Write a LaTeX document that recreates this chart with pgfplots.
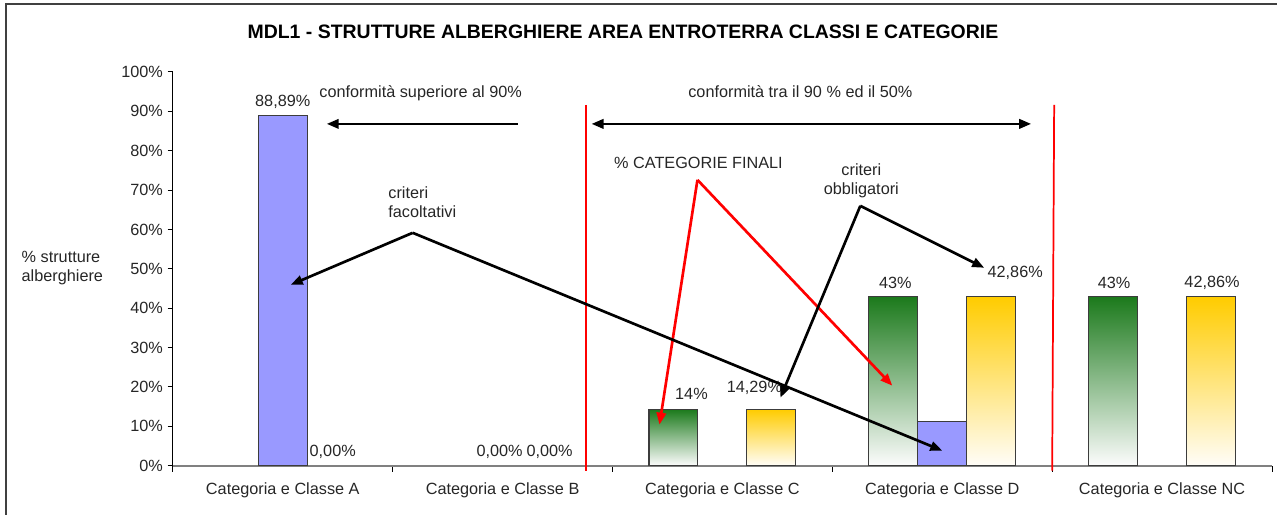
\documentclass[border=0pt]{standalone}
\usepackage{pgfplots}
\pgfplotsset{compat=1.18}
\usepackage{fontspec}
\setmainfont{Liberation Sans}
\usetikzlibrary{arrows.meta}
\definecolor{barblue}{RGB}{153,153,255}
\definecolor{ggreen}{RGB}{28,122,28}
\definecolor{gbottom}{RGB}{252,252,252}
\definecolor{gyellow}{RGB}{255,204,0}
\definecolor{ybottom}{RGB}{255,253,248}
\definecolor{edgegray}{RGB}{60,60,60}
\newcommand{\bodyfont}{\fontsize{12.2}{14.25}\selectfont}
\begin{document}
\begin{tikzpicture}
\begin{scope}[x=0.75pt,y=-0.75pt,shift={(-129.75pt,349.5pt)}]
\path (0,0) rectangle (1278,515);
\end{scope}
\begin{axis}[
  at={(0,0)}, anchor=south west,
  scale only axis, width=825pt, height=295.5pt,
  xmin=-0.5, xmax=4.5, ymin=0, ymax=100,
  axis x line*=bottom, axis y line*=left,
  x axis line style={draw=gray, line width=1.5pt},
  y axis line style={draw=black, line width=0.8pt},
  tick align=outside,
  xtick={0,1,2,3,4},
  xticklabels={Categoria e Classe A,Categoria e Classe B,Categoria e Classe C,Categoria e Classe D,Categoria e Classe NC},
  major x tick style={draw=none},
  minor xtick={-0.5,0.5,1.5,2.5,3.5,4.5},
  minor x tick style={black, line width=0.75pt},
  minor tick length=4.5pt,
  ytick={0,10,20,30,40,50,60,70,80,90,100},
  yticklabels={0\%,10\%,20\%,30\%,40\%,50\%,60\%,70\%,80\%,90\%,100\%},
  y tick style={black, line width=0.75pt},
  major tick length=4pt,
  tick label style={font=\bodyfont, text=black!85},
  xticklabel style={yshift=-5pt},
  title={MDL1 - STRUTTURE ALBERGHIERE AREA ENTROTERRA CLASSI E CATEGORIE},
  every axis title/.style={at={(axis description cs:0.4095,1.1015)}, anchor=center, font=\fontsize{14.6}{17}\selectfont\bfseries},
  ylabel={\% strutture\\alberghiere},
  every axis y label/.style={at={(axis description cs:-0.1418,0.501)}, anchor=west, align=left, font=\bodyfont, text=black!85},
  clip=false,
  greenbar/.style={ybar, bar width=0.2227, bar shift=-0.2227, draw=edgegray, line width=0.8pt, top color=ggreen, bottom color=gbottom},
  yellowbar/.style={ybar, bar width=0.2227, bar shift=0.2227, draw=edgegray, line width=0.8pt, top color=gyellow, bottom color=ybottom},
]
% criteri facoltativi (blue); zero values not drawn
\addplot[ybar, bar width=0.2227, bar shift=0, fill=barblue, draw=edgegray, line width=0.8pt]
  coordinates {(0,88.89) (3,11.11)};
% % categorie finali (green), one plot per bar so each bar has its own gradient
\addplot[greenbar] coordinates {(2,14.29)};
\addplot[greenbar] coordinates {(3,42.86)};
\addplot[greenbar] coordinates {(4,42.86)};
% criteri obbligatori (yellow)
\addplot[yellowbar] coordinates {(2,14.29)};
\addplot[yellowbar] coordinates {(3,42.86)};
\addplot[yellowbar] coordinates {(4,42.86)};
% value labels
\addplot[only marks, mark=none, nodes near coords, point meta=explicit symbolic,
  visualization depends on={\thisrow{dx} \as \dx},
  visualization depends on={\thisrow{dy} \as \dy},
  nodes near coords style={anchor=center, xshift=\dx*0.75pt, yshift=\dy*0.75pt, font=\bodyfont, text=black!85, inner sep=0pt}]
  table[x=x, y=y, meta=lab] {
x y dx dy lab
0 88.89 0 14 88,89\%
0.2227 0 1 14 0,00\%
1 0 -3 14 0,00\%
1.2227 0 -2 14 0,00\%
1.7773 14.29 18 15 14\%
2.2227 14.29 -17 22 14,29\%
2.7773 42.86 2 14 43\%
3.2227 42.86 24 24 42,86\%
3.7773 42.86 1 14 43\%
4.2227 42.86 1 14 42,86\%
};
\end{axis}
\begin{scope}[x=0.75pt,y=-0.75pt,shift={(-129.75pt,349.5pt)}]
% chart border
\draw[line width=1.5pt, black!75] (6,515) -- (6,4) -- (1278,4);
% separators
\draw[draw=red, line width=1.3pt] (586.5,105) -- (586.5,471);
\draw[draw=red, line width=1.3pt] (1055,105) -- (1053,471);
% annotation texts
\node[font=\bodyfont, text=black!85] at (421,93) {conformità superiore al 90\%};
\node[font=\bodyfont, text=black!85] at (801,92) {conformità tra il 90 \% ed il 50\%};
\node[font=\bodyfont, text=black!85] at (699,163) {\% CATEGORIE FINALI};
\node[font=\bodyfont, text=black!85, align=center] at (862,180.5) {criteri\\obbligatori};
\node[font=\bodyfont, text=black!85, align=left, anchor=west] at (384,202.5) {criteri\\facoltativi};
% arrows
\tikzset{ah/.style={-{Triangle[length=9pt,width=7pt]}}}
\draw[line width=2pt, ah] (518,124) -- (327,124);
\draw[line width=2pt, {Triangle[length=9pt,width=7pt]}-{Triangle[length=9pt,width=7pt]}] (592,124) -- (1032,124);
\draw[red, line width=2pt, ah] (698,180) -- (660,425);
\draw[red, line width=2pt, ah] (698,180) -- (893,386);
\draw[line width=2pt, ah] (861,206) -- (781,398);
\draw[line width=2pt, ah] (861,206) -- (985,268);
\draw[line width=2pt, ah] (413,233) -- (291,285);
\draw[line width=2pt, ah] (413,233) -- (943,451);
\end{scope}
\end{tikzpicture}
\end{document}
